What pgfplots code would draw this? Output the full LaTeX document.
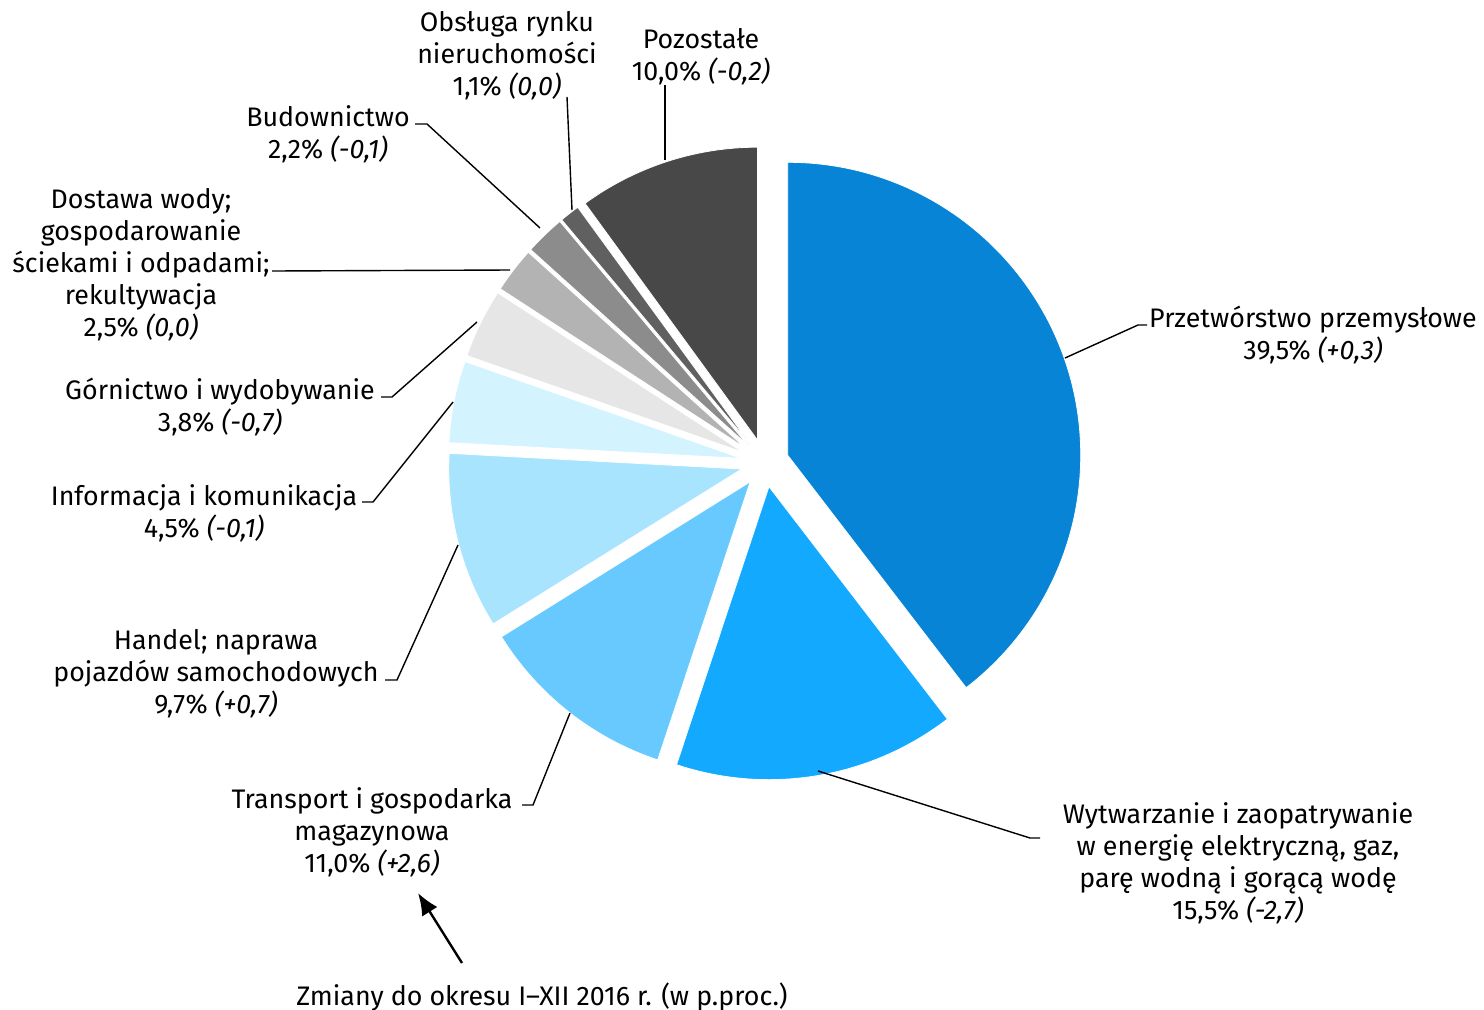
\documentclass[border=0pt]{standalone}
\usepackage{pgfplots}
\pgfplotsset{compat=1.18}
\usepackage{pgfplotstable}
\usetikzlibrary{arrows.meta}
\usepackage{fontspec}
\setmainfont{Fira Sans}
\definecolor{c1}{HTML}{0784D6}
\definecolor{c2}{HTML}{13A9FF}
\definecolor{c3}{HTML}{68C9FF}
\definecolor{c4}{HTML}{A9E4FF}
\definecolor{c5}{HTML}{D3F3FF}
\definecolor{c6}{HTML}{E6E6E6}
\definecolor{c7}{HTML}{B3B3B3}
\definecolor{c8}{HTML}{8C8C8C}
\definecolor{c9}{HTML}{606060}
\definecolor{c10}{HTML}{484848}
\pgfplotstableread{
pct col
39.5 c1
15.5 c2
11.0 c3
9.7 c4
4.5 c5
3.8 c6
2.5 c7
2.2 c8
1.1 c9
10.0 c10
}\pietable
\begin{document}
\begin{tikzpicture}[lab/.style={align=center,font=\fontsize{13.4bp}{16bp}\selectfont,inner sep=0pt},ld/.style={black,line width=0.7bp}]
\begin{axis}[width=742bp,height=505bp,scale only axis,xmin=0,xmax=1484,ymin=0,ymax=1010,y dir=reverse,hide axis,clip=false]
\pgfplotsextra{
  \pgfmathsetmacro{\tot}{99.8}
  \gdef\cum{0}
  \foreach \i in {0,...,9}{
    \pgfplotstablegetelem{\i}{pct}\of\pietable
    \pgfmathsetmacro{\v}{\pgfplotsretval}
    \pgfplotstablegetelem{\i}{col}\of\pietable
    \edef\c{\pgfplotsretval}
    \pgfmathsetmacro{\aA}{90-\cum/\tot*360}
    \pgfmathsetmacro{\aB}{90-(\cum+\v)/\tot*360}
    \pgfmathsetmacro{\aM}{(\aA+\aB)/2}
    \fill[fill=\c, draw=white, line width=0.4bp] (axis cs:765,463) ++(\aM:12bp) -- ++(\aA:146.5bp) arc[start angle=\aA, end angle=\aB, radius=146.5bp] -- cycle;
    \pgfmathsetmacro{\newcum}{\cum+\v}
    \global\let\cum\newcum
  }
}
\draw[ld] (axis cs:1065,358) -- (axis cs:1138,325) -- (axis cs:1147,325);
\draw[ld] (axis cs:818,771) -- (axis cs:1030,838) -- (axis cs:1040,838);
\draw[ld] (axis cs:570,713) -- (axis cs:533,805) -- (axis cs:522,805);
\draw[ld] (axis cs:458,545) -- (axis cs:397,680) -- (axis cs:385,680);
\draw[ld] (axis cs:453,402) -- (axis cs:373,502) -- (axis cs:362,502);
\draw[ld] (axis cs:477,322) -- (axis cs:392,397) -- (axis cs:381,397);
\draw[ld] (axis cs:510,270) -- (axis cs:272,271);
\draw[ld] (axis cs:540,228) -- (axis cs:427,124) -- (axis cs:415,124);
\draw[ld] (axis cs:572,210) -- (axis cs:567,97);
\draw[ld] (axis cs:665,160) -- (axis cs:665,85);
\draw[black,line width=1.2bp,-{Latex[length=11bp,width=9bp]}] (axis cs:462,963) -- (axis cs:418,893);
\node[lab] at (axis cs:1313,335) {Przetwórstwo przemysłowe\\39,5\% \textit{(+0,3)}};
\node[lab] at (axis cs:1238,863) {Wytwarzanie i zaopatrywanie\\w energię elektryczną, gaz,\\parę wodną i gorącą wodę\\15,5\% \textit{(-2,7)}};
\node[lab] at (axis cs:372,832) {Transport i gospodarka\\magazynowa\\11,0\% \textit{(+2,6)}};
\node[lab] at (axis cs:216,674) {Handel; naprawa\\pojazdów samochodowych\\9,7\% \textit{(+0,7)}};
\node[lab] at (axis cs:204,513) {Informacja i komunikacja\\4,5\% \textit{(-0,1)}};
\node[lab] at (axis cs:220,407) {Górnictwo i wydobywanie\\3,8\% \textit{(-0,7)}};
\node[lab] at (axis cs:141,265) {Dostawa wody;\\gospodarowanie\\ściekami i odpadami;\\rekultywacja\\2,5\% \textit{(0,0)}};
\node[lab] at (axis cs:328,134) {Budownictwo\\2,2\% \textit{(-0,1)}};
\node[lab] at (axis cs:507,56) {Obsługa rynku\\nieruchomości\\1,1\% \textit{(0,0)}};
\node[lab] at (axis cs:701,57) {Pozostałe\\10,0\% \textit{(-0,2)}};
\node[lab] at (axis cs:542,997) {Zmiany do okresu I–XII 2016 r. (w p.proc.)};
\end{axis}
\pgfresetboundingbox
\useasboundingbox (0,0) rectangle (742bp,505bp);
\end{tikzpicture}
\end{document}
